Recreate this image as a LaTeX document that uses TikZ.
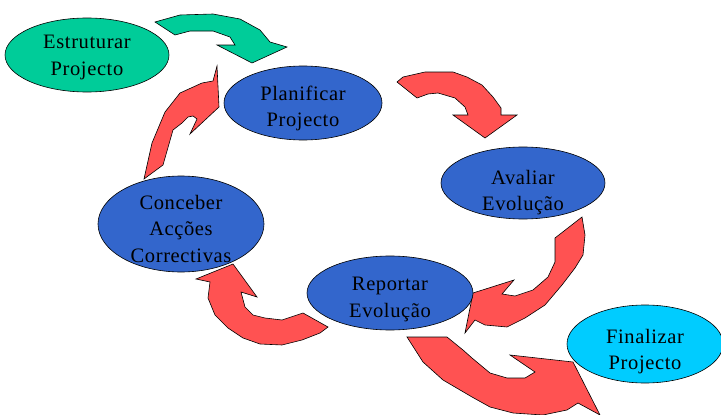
\documentclass[tikz,border=0pt]{standalone}
\usepackage{fontspec}
\setmainfont{Liberation Serif}
\newfontfamily\phasefont{Liberation Serif}[LetterSpace=3]
\usepackage{tikz}
\usetikzlibrary{shapes.geometric}
\definecolor{phasegreen}{RGB}{0,204,153}
\definecolor{phaseblue}{RGB}{51,102,204}
\definecolor{phasecyan}{RGB}{0,204,255}
\definecolor{arrowred}{RGB}{255,82,82}

\begin{document}
\begin{tikzpicture}[x=1pt,y=-1pt,
  phase/.style={ellipse,draw=black,line width=0.6pt,inner sep=0pt},
  phasetext/.style={align=center,inner sep=0pt,yshift=-6.5pt,
    font=\phasefont\fontsize{20.5}{26.5}\selectfont},
  turnarrow/.style={fill=arrowred,draw=black,line width=0.6pt}]

\useasboundingbox (0,0) rectangle (721,415);

% curved arrows
\filldraw[turnarrow,fill=phasegreen] (155,22) -- (180,15) -- (213,14) -- (240,19) -- (260,30) -- (270,42)
  -- (287,47) -- (252,63) -- (217,45) -- (235,45) -- (230,37) -- (213,31) -- (190,31) -- (175,35) -- cycle;

\filldraw[turnarrow] (144,179) -- (152,143) -- (165,112) -- (180,93) -- (202,83) -- (213,81) -- (217,66)
  -- (219,107) -- (190,134) -- (197,119) -- (193,116) -- (188,117) -- (182,123) -- (173,130) -- (163,165) -- cycle;

\filldraw[turnarrow] (397,82) -- (403,77) -- (425,72) -- (453,72) -- (467,77) -- (482,85) -- (493,97)
  -- (501,108) -- (501,115) -- (517,115) -- (485,138) -- (453,115) -- (468,115) -- (465,107)
  -- (455,98) -- (438,93) -- (428,94) -- (417,98) -- cycle;

\filldraw[turnarrow] (582,217) -- (585,235) -- (583,255) -- (575,268) -- (562,285) -- (545,305) -- (525,318)
  -- (507,327) -- (485,325) -- (475,320) -- (465,333) -- (473,293) -- (514,280) -- (502,294)
  -- (515,296) -- (533,290) -- (548,277) -- (555,262) -- (555,238) -- cycle;

\filldraw[turnarrow] (233,264) -- (257,297) -- (241,292) -- (245,307) -- (253,315) -- (265,318) -- (282,320)
  -- (303,313) -- (328,327) -- (320,333) -- (302,340) -- (282,345) -- (260,344) -- (243,338)
  -- (228,328) -- (215,315) -- (208,298) -- (210,282) -- (196,279) -- cycle;

\filldraw[turnarrow] (407,337) -- (447,337) -- (463,350) -- (472,358) -- (490,373) -- (507,378) -- (525,378)
  -- (535,372) -- (510,355) -- (573,362) -- (600,415) -- (578,403) -- (567,410) -- (543,415)
  -- (513,413) -- (490,407) -- (472,397) -- (443,380) -- (423,362) -- cycle;

% phases
\node[phase,fill=phasegreen,minimum width=164,minimum height=74,
  label={[phasetext,yshift=4pt]center:Estruturar\\Projecto}] (estruturar) at (87,55) {};
\node[phase,fill=phaseblue,minimum width=158,minimum height=74,
  label={[phasetext,yshift=1pt]center:Planificar\\Projecto}] (planificar) at (303,103) {};
\node[phase,fill=phaseblue,minimum width=164,minimum height=72,
  label={[phasetext,yshift=-3pt]center:Avaliar\\Evolução}] (avaliar) at (523,183) {};
\node[phase,fill=phaseblue,minimum width=166,minimum height=96,
  label={[phasetext,yshift=2pt]center:Conceber\\Acções\\Correctivas}] (conceber) at (181,224) {};
\node[phase,fill=phaseblue,minimum width=166,minimum height=74,
  label={[phasetext]center:Reportar\\Evolução}] (reportar) at (390,293) {};
\node[phase,fill=phasecyan,minimum width=156,minimum height=78,
  label={[phasetext,yshift=-1pt]center:Finalizar\\Projecto}] (finalizar) at (645,344) {};

\end{tikzpicture}
\end{document}
